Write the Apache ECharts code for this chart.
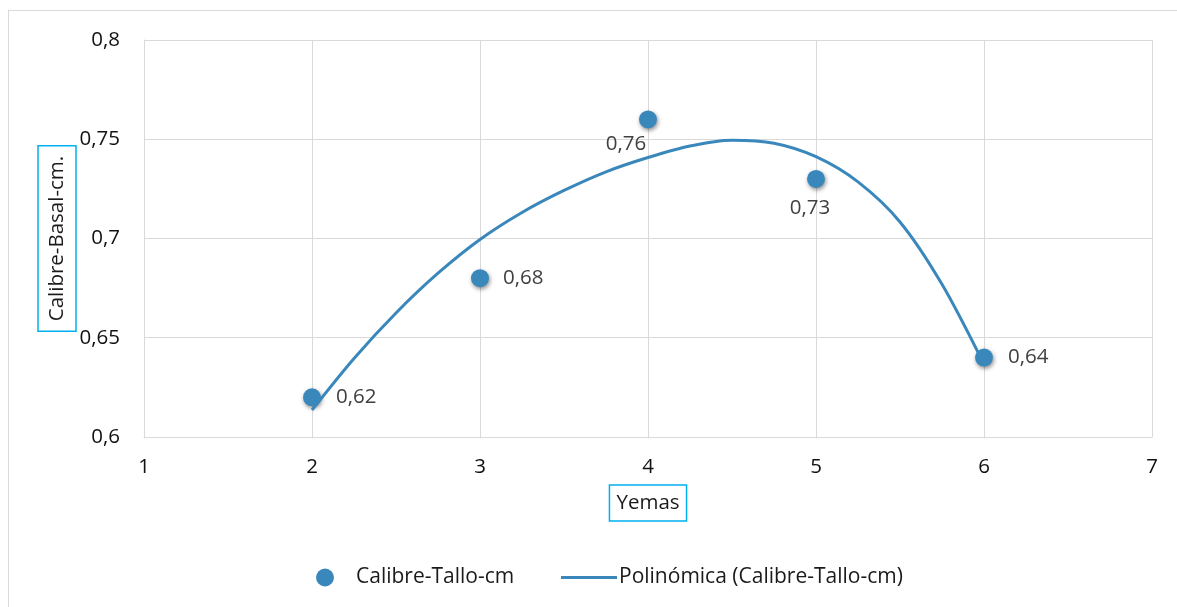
<!DOCTYPE html>
<html><head><meta charset="utf-8">
<script src="https://cdn.jsdelivr.net/npm/echarts@6/dist/echarts.min.js"></script>
<style>html,body{margin:0;padding:0;background:#fff}#c{width:1177px;height:607px}</style>
</head><body><div id="c"></div>
<script>
// Data
const yemas = [2, 3, 4, 5, 6];
const calibreTallo = [0.62, 0.68, 0.76, 0.73, 0.64];
// Polynomial trend line
const trendX = [2, 2.25, 2.5, 2.75, 3, 3.25, 3.5, 3.75, 4, 4.25, 4.5, 4.75, 5, 5.25, 5.5, 5.75, 6];
const trendY = [0.6136, 0.6396, 0.6625, 0.6825, 0.6995, 0.7131, 0.7242, 0.7336, 0.7408, 0.7466, 0.7495, 0.748, 0.7412, 0.7285, 0.7083, 0.6769, 0.6366];
const xTicks = [1, 2, 3, 4, 5, 6, 7];
const yTicks = [0.6, 0.65, 0.7, 0.75, 0.8];
const seriesName = 'Calibre-Tallo-cm';
const trendName = 'Polinómica (Calibre-Tallo-cm)';
const xTitle = 'Yemas';
const yTitle = 'Calibre-Basal-cm.';

const FONT = 'Open Sans';
const FS = 20.5;
const labelCfg = [
  {position: 'right', distance: 15, offset: [0, 0]},
  {position: 'right', distance: 14, offset: [0, 0]},
  {position: 'bottom', distance: 5, offset: [-22, 0]},
  {position: 'bottom', distance: 10, offset: [-6, 0]},
  {position: 'right', distance: 15, offset: [0, 0]}
];
const fmt = v => String(v).replace('.', ',');
const chart = echarts.init(document.getElementById('c'));
chart.setOption({
  animation: false,
  textStyle: {fontFamily: FONT},
  graphic: [
    {type: 'line', shape: {x1: 8, y1: 10.5, x2: 1177, y2: 10.5}, style: {stroke: '#d9d9d9', lineWidth: 1}, silent: true, z: -10},
    {type: 'line', shape: {x1: 8.5, y1: 10, x2: 8.5, y2: 607}, style: {stroke: '#d9d9d9', lineWidth: 1}, silent: true, z: -10}
  ],
  grid: {left: 144, right: 25, top: 40, bottom: 170},
  legend: [
    {data: [{name: seriesName, icon: 'circle'}], left: 311, top: 562, itemWidth: 18, itemHeight: 18, itemGap: 10,
     textStyle: {fontFamily: FONT, fontSize: 21, color: '#1a1a1a', padding: [0, 0, 0, 17]}},
    {data: [{name: trendName, icon: 'rect'}], left: 556, top: 562, itemWidth: 56, itemHeight: 3,
     itemStyle: {color: '#3a88bb'},
     textStyle: {fontFamily: FONT, fontSize: 21, color: '#1a1a1a', padding: [0, 0, 0, -3]}}
  ],
  xAxis: {
    type: 'value', min: xTicks[0], max: xTicks[xTicks.length - 1], interval: 1,
    name: xTitle, nameLocation: 'middle', nameGap: 48,
    nameTextStyle: {fontFamily: FONT, fontSize: FS, color: '#1a1a1a', borderColor: '#00b0f0', borderWidth: 1.5, padding: [8, 7, 7, 7]},
    axisLine: {show: true, lineStyle: {color: '#d9d9d9', width: 1}},
    axisTick: {show: false},
    axisLabel: {fontFamily: FONT, fontSize: FS, color: '#111', margin: 20},
    splitLine: {show: true, lineStyle: {color: '#d9d9d9', width: 1}}
  },
  yAxis: {
    type: 'value', min: yTicks[0], max: yTicks[yTicks.length - 1], interval: 0.05,
    name: yTitle, nameLocation: 'middle', nameGap: 68, nameRotate: 90, nameMoveOverlap: false,
    nameTextStyle: {fontFamily: FONT, fontSize: FS, color: '#1a1a1a', borderColor: '#00b0f0', borderWidth: 1.5, padding: [8.5, 10, 8.5, 10]},
    axisLine: {show: true, lineStyle: {color: '#d9d9d9', width: 1}},
    axisTick: {show: false},
    axisLabel: {fontFamily: FONT, fontSize: FS, color: '#111', margin: 24, formatter: v => fmt(Math.round(v * 100) / 100)},
    splitLine: {show: true, lineStyle: {color: '#d9d9d9', width: 1}}
  },
  series: [
    {
      name: seriesName, type: 'scatter', symbol: 'circle', symbolSize: 18, z: 2,
      itemStyle: {color: '#3a88bb', opacity: 1, shadowBlur: 4, shadowColor: 'rgba(0,0,0,0.45)', shadowOffsetX: 1, shadowOffsetY: 2},
      data: yemas.map((x, i) => ({
        value: [x, calibreTallo[i]],
        label: {show: true, position: labelCfg[i].position, distance: labelCfg[i].distance, offset: labelCfg[i].offset,
          formatter: fmt(calibreTallo[i]), fontFamily: FONT, fontSize: FS, color: '#404040'}
      }))
    },
    {
      name: trendName, type: 'line', smooth: 0.3, symbol: 'none', z: 3,
      lineStyle: {color: '#3a88bb', width: 3},
      itemStyle: {color: '#3a88bb'},
      data: trendX.map((x, i) => [x, trendY[i]])
    }
  ]
});
</script></body></html>
